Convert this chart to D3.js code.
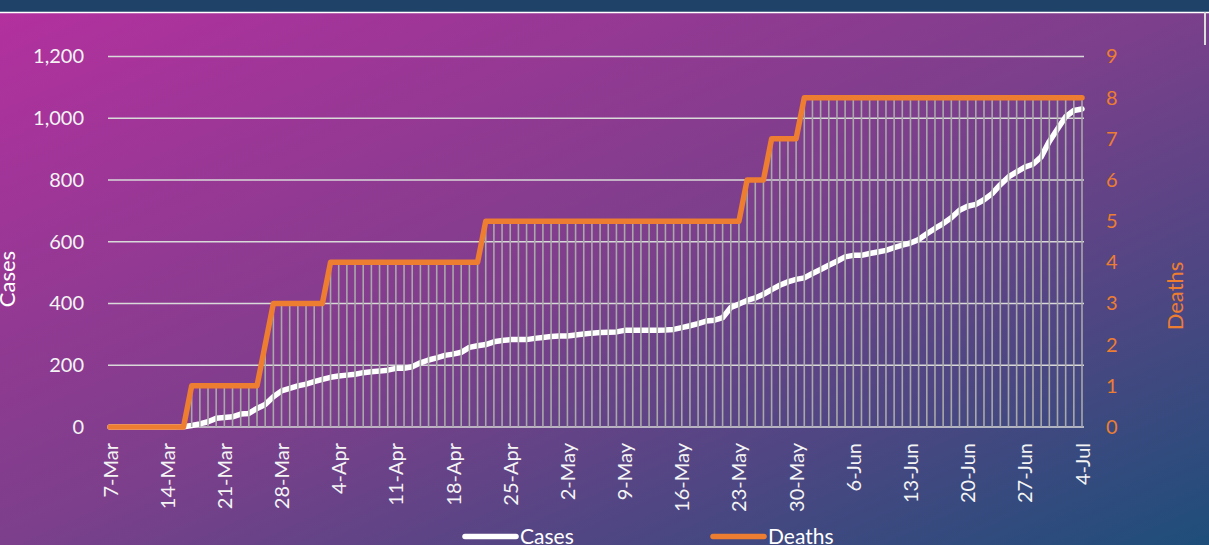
<!DOCTYPE html>
<html>
<head>
<meta charset="utf-8">
<script src="https://cdn.jsdelivr.net/npm/d3@7"></script>
<style>
body { margin: 0; overflow: hidden; }
svg { display: block; font-family: Lato, "Open Sans", sans-serif; }
</style>
</head>
<body>
<svg id="chart" width="1209" height="545"></svg>
<script>
// daily series, 7-Mar to 4-Jul
const startDate = new Date(2020, 2, 7);

const cases = [
    0, 0, 0, 0, 0, 0, 0, 0, 0, 1,
    5, 10, 17, 28, 31, 33, 42, 44, 60, 73,
    98, 117, 125, 133, 139, 147, 154, 161, 165, 168,
    171, 176, 179, 181, 184, 190, 190, 195, 208, 217,
    224, 232, 236, 242, 258, 263, 267, 276, 280, 283,
    283, 283, 287, 290, 293, 295, 295, 298, 301, 304,
    306, 307, 308, 313, 313, 313, 313, 313, 314, 316,
    322, 328, 335, 343, 346, 354, 387, 398, 410, 418,
    430, 445, 459, 470, 478, 483, 497, 510, 524, 537,
    551, 556, 556, 562, 567, 572, 581, 589, 596, 607,
    626, 643, 659, 678, 702, 715, 721, 736, 756, 785,
    810, 826, 842, 851, 875, 925, 965, 1005, 1025, 1030
];

const deaths = [
    0, 0, 0, 0, 0, 0, 0, 0, 0, 0,
    1, 1, 1, 1, 1, 1, 1, 1, 1, 2,
    3, 3, 3, 3, 3, 3, 3, 4, 4, 4,
    4, 4, 4, 4, 4, 4, 4, 4, 4, 4,
    4, 4, 4, 4, 4, 4, 5, 5, 5, 5,
    5, 5, 5, 5, 5, 5, 5, 5, 5, 5,
    5, 5, 5, 5, 5, 5, 5, 5, 5, 5,
    5, 5, 5, 5, 5, 5, 5, 5, 6, 6,
    6, 7, 7, 7, 7, 8, 8, 8, 8, 8,
    8, 8, 8, 8, 8, 8, 8, 8, 8, 8,
    8, 8, 8, 8, 8, 8, 8, 8, 8, 8,
    8, 8, 8, 8, 8, 8, 8, 8, 8, 8
];

const caseTicks = [0, 200, 400, 600, 800, 1000, 1200];
const deathTicks = [0, 1, 2, 3, 4, 5, 6, 7, 8, 9];
const seriesNames = ['Cases', 'Deaths'];

const dates = cases.map((d, i) => d3.timeDay.offset(startDate, i));
const weekDates = dates.filter((d, i) => i % 7 === 0);

const svg = d3.select('#chart');
const width = +svg.attr('width');
const height = +svg.attr('height');

const orange = '#ed7d31';

// background
const defs = svg.append('defs');
const grad = defs.append('linearGradient')
    .attr('id', 'bg')
    .attr('x1', 0).attr('y1', 0).attr('x2', 1).attr('y2', 1);
grad.append('stop').attr('offset', '0%').attr('stop-color', '#b4309f');
grad.append('stop').attr('offset', '50%').attr('stop-color', '#7c3f8b');
grad.append('stop').attr('offset', '100%').attr('stop-color', '#1e4e7a');

svg.append('rect').attr('width', width).attr('height', height).attr('fill', 'url(#bg)');
svg.append('rect').attr('width', width).attr('height', 12).attr('fill', '#1f4368');
svg.append('line')
    .attr('x1', 0).attr('x2', width).attr('y1', 12.5).attr('y2', 12.5)
    .attr('stroke', '#ffffff').attr('stroke-width', 1.5);
svg.append('line')
    .attr('x1', 1205).attr('x2', 1205).attr('y1', 12).attr('y2', 45)
    .attr('stroke', '#dcdcdc').attr('stroke-width', 2);

// scales
const xScale = d3.scaleTime()
    .domain([dates[0], dates[dates.length - 1]])
    .range([110, 1082]);

const yCases = d3.scaleLinear().domain([0, 1200]).range([427, 56.5]);
const yDeaths = d3.scaleLinear().domain([0, 9]).range([427, 56.5]);

const g = svg.append('g');

// gridlines
g.append('g').selectAll('line').data(caseTicks)
    .enter().append('line')
        .attr('x1', 108).attr('x2', 1084)
        .attr('y1', d => yCases(d)).attr('y2', d => yCases(d))
        .attr('stroke', '#d9d9d9').attr('stroke-width', 1.6);

// axes
const leftAxis = g.append('g')
    .attr('transform', 'translate(108,0)')
    .call(d3.axisLeft(yCases).tickValues(caseTicks).tickSize(0).tickPadding(24).tickFormat(d3.format(',')));
leftAxis.select('.domain').remove();
leftAxis.selectAll('text').attr('fill', '#f4f4f4').style('font-size', '20px').style('font-family', 'Lato, sans-serif');

const rightAxis = g.append('g')
    .attr('transform', 'translate(1083,0)')
    .call(d3.axisRight(yDeaths).tickValues(deathTicks).tickSize(0).tickPadding(23));
rightAxis.select('.domain').remove();
rightAxis.selectAll('text').attr('fill', orange).style('font-size', '20px').style('font-family', 'Lato, sans-serif');

const xAxis = g.append('g')
    .attr('transform', 'translate(0,427)')
    .call(d3.axisBottom(xScale).tickValues(weekDates).tickSize(0).tickFormat(d3.timeFormat('%-d-%b')));
xAxis.select('.domain').remove();
xAxis.selectAll('text')
    .attr('transform', 'rotate(-90)')
    .attr('x', -16).attr('y', 0).attr('dy', '0.35em')
    .style('text-anchor', 'end')
    .attr('fill', '#f4f4f4')
    .style('font-size', '20px').style('font-family', 'Lato, sans-serif');

// cases line
const caseLine = d3.line()
    .x((d, i) => xScale(dates[i]))
    .y(d => yCases(d));

g.append('path').datum(cases)
    .attr('d', caseLine)
    .attr('fill', 'none')
    .attr('stroke', '#ffffff')
    .attr('stroke-width', 5.5)
    .attr('stroke-linejoin', 'round')
    .attr('stroke-linecap', 'round');

// drop lines from deaths
g.append('g').selectAll('line').data(deaths)
    .enter().append('line')
        .attr('x1', (d, i) => xScale(dates[i]))
        .attr('x2', (d, i) => xScale(dates[i]))
        .attr('y1', d => yDeaths(d))
        .attr('y2', yDeaths(0))
        .attr('stroke', '#a9a9a9')
        .attr('stroke-width', 1.6);

// deaths line
const deathLine = d3.line()
    .x((d, i) => xScale(dates[i]))
    .y(d => yDeaths(d));

g.append('path').datum(deaths)
    .attr('d', deathLine)
    .attr('fill', 'none')
    .attr('stroke', orange)
    .attr('stroke-width', 5.5)
    .attr('stroke-linejoin', 'round')
    .attr('stroke-linecap', 'round');

// axis titles
svg.append('text')
    .attr('transform', 'translate(15,279) rotate(-90)')
    .attr('text-anchor', 'middle')
    .attr('fill', '#ffffff')
    .style('font-size', '22px')
    .text(seriesNames[0]);

svg.append('text')
    .attr('transform', 'translate(1183,296) rotate(-90)')
    .attr('text-anchor', 'middle')
    .attr('fill', orange)
    .style('font-size', '22px')
    .text(seriesNames[1]);

// legend
const legend = svg.append('g');
const legendItems = [
    {name: seriesNames[0], color: '#ffffff', x: 462},
    {name: seriesNames[1], color: orange, x: 710}
];
legendItems.forEach(item => {
    legend.append('line')
        .attr('x1', item.x + 3).attr('x2', item.x + 54)
        .attr('y1', 536.5).attr('y2', 536.5)
        .attr('stroke', item.color)
        .attr('stroke-width', 5.5)
        .attr('stroke-linecap', 'round');
    legend.append('text')
        .attr('x', item.x + 58)
        .attr('y', 544)
        .attr('fill', '#ffffff')
        .style('font-size', '21px')
        .text(item.name);
});
</script>
</body>
</html>
